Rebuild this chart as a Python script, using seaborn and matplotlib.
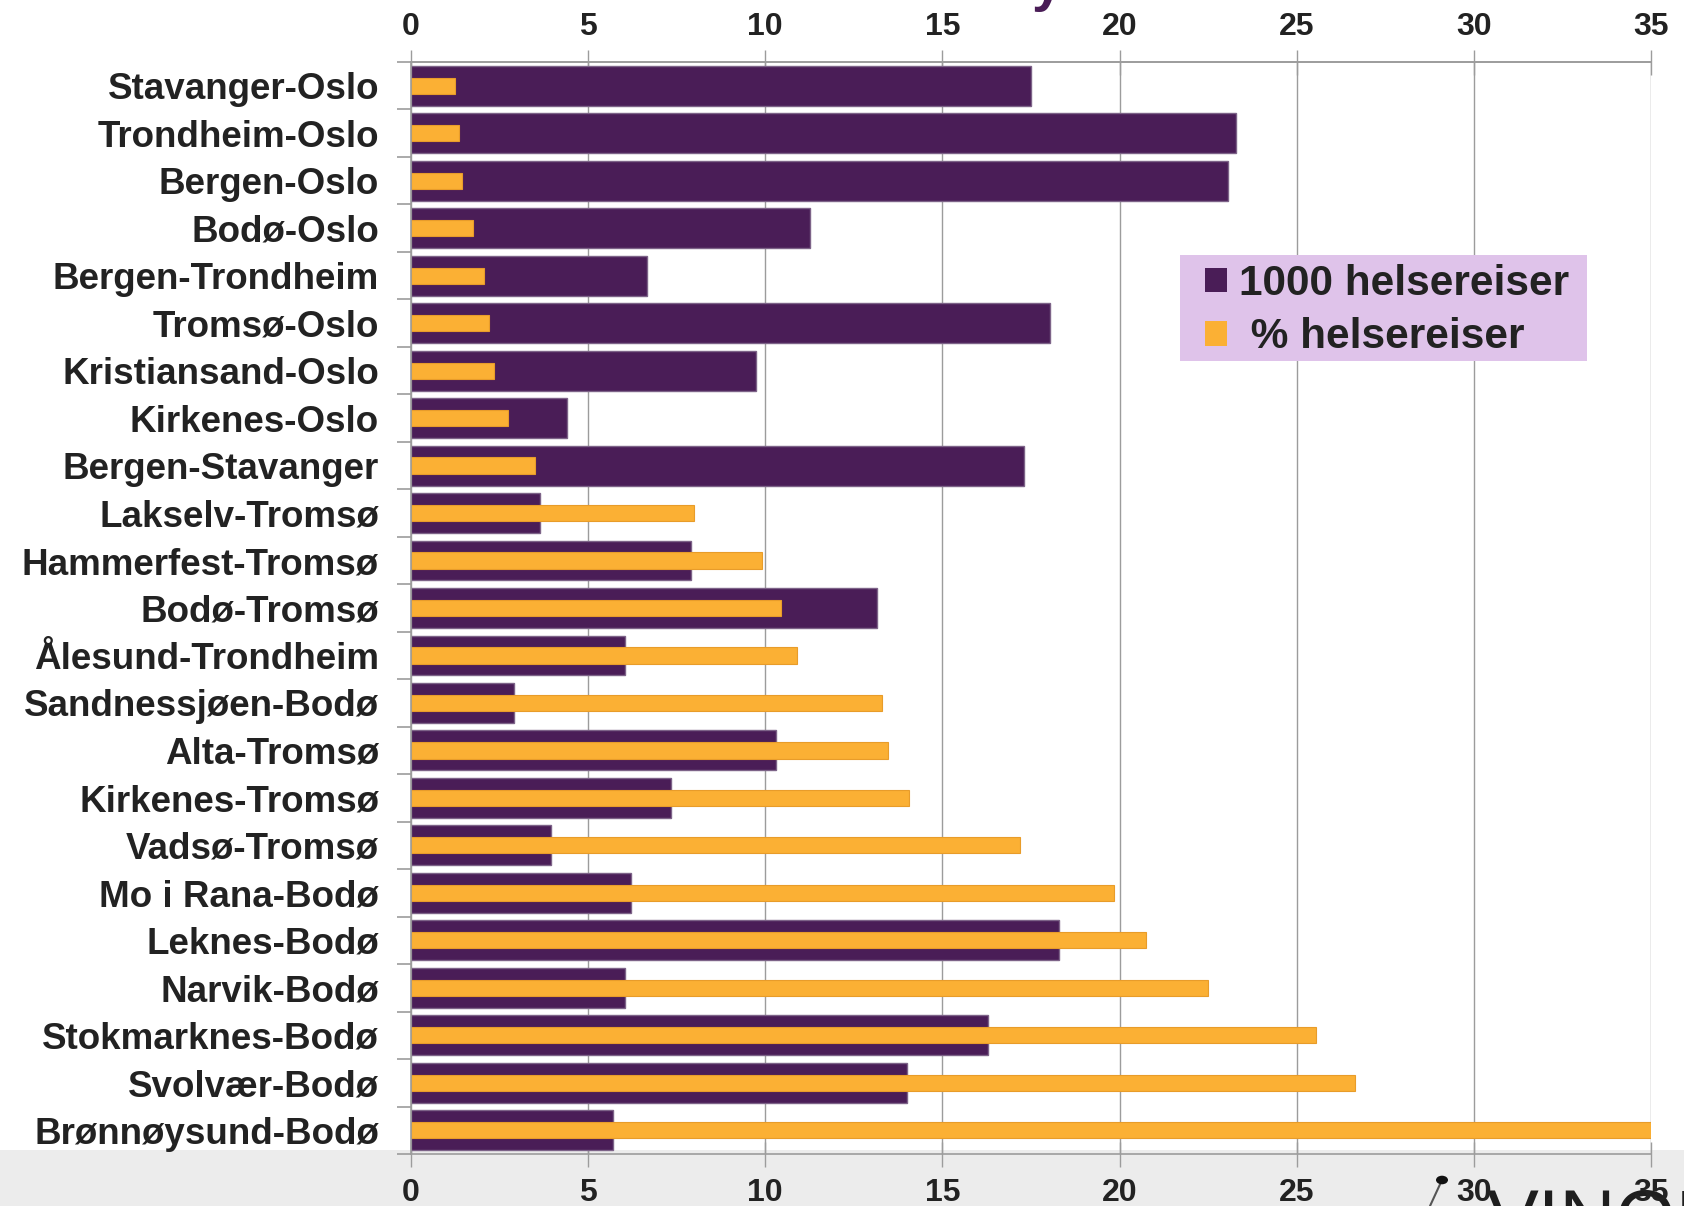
import numpy as np
import matplotlib
matplotlib.use("Agg")
import matplotlib.pyplot as plt
from matplotlib.patches import Patch, Rectangle, Circle
from matplotlib.lines import Line2D
import seaborn as sns

# routes, top to bottom
routes = [
    "Stavanger-Oslo", "Trondheim-Oslo", "Bergen-Oslo", "Bodø-Oslo",
    "Bergen-Trondheim", "Tromsø-Oslo", "Kristiansand-Oslo", "Kirkenes-Oslo",
    "Bergen-Stavanger", "Lakselv-Tromsø", "Hammerfest-Tromsø", "Bodø-Tromsø",
    "Ålesund-Trondheim", "Sandnessjøen-Bodø", "Alta-Tromsø", "Kirkenes-Tromsø",
    "Vadsø-Tromsø", "Mo i Rana-Bodø", "Leknes-Bodø", "Narvik-Bodø",
    "Stokmarknes-Bodø", "Svolvær-Bodø", "Brønnøysund-Bodø",
]
# 1000 helsereiser
trips_1000 = [17.5, 23.3, 23.05, 11.25, 6.65, 18.05, 9.75, 4.4, 17.3,
              3.65, 7.9, 13.15, 6.05, 2.9, 10.3, 7.35, 3.95, 6.2, 18.3,
              6.05, 16.3, 14.0, 5.7]
# % helsereiser
trips_pct = [1.25, 1.35, 1.45, 1.75, 2.05, 2.2, 2.35, 2.75, 3.5,
             8.0, 9.9, 10.45, 10.9, 13.3, 13.45, 14.05, 17.2, 19.85, 20.75,
             22.5, 25.55, 26.65, 35.0]
xticks = [0, 5, 10, 15, 20, 25, 30, 35]
legend_labels = ["1000 helsereiser", " % helsereiser"]

PURPLE = "#4a1d57"
ORANGE = "#fbb034"
GRID = "#9c9c9c"
TEXT = "#222222"

W, H = 1684, 1206

sns.set_theme(style="white")
plt.rcParams["font.family"] = ["Liberation Sans", "DejaVu Sans"]

fig = plt.figure(figsize=(W / 100, H / 100), dpi=100)
# grey footer band (behind everything)
fig.patches.append(Rectangle((0, 0), 1, 1 - 1150 / H, transform=fig.transFigure,
                             facecolor="#ececec", edgecolor="none", zorder=-1))

ax = fig.add_axes([411 / W, 1 - 1154 / H, (1651 - 411) / W, (1154 - 62) / H])
ax.patch.set_alpha(0)

sns.barplot(x=trips_1000, y=routes, orient="h", color=PURPLE, saturation=1,
            width=0.84, edgecolor="#7d6388", linewidth=1, ax=ax)
sns.barplot(x=trips_pct, y=routes, orient="h", color=ORANGE, saturation=1,
            width=0.34, edgecolor="#e89c2a", linewidth=0.8, ax=ax)

ax.set_xlim(0, 35)
ax.set_ylim(len(routes) - 0.5, -0.5)
ax.set_xlabel("")
ax.set_ylabel("")
ax.set_xticks(xticks)
ax.set_xticklabels([str(t) for t in xticks], fontsize=23, fontweight="bold", color=TEXT)
ax.tick_params(axis="x", bottom=True, top=False, direction="inout",
               length=18, width=1, color=GRID, pad=8.5)
ax.grid(axis="x", color=GRID, linewidth=1)
ax.grid(axis="y", visible=False)
ax.set_axisbelow(True)

# the same scale repeated on top
top = ax.secondary_xaxis("top")
top.set_xticks(xticks)
top.set_xticklabels([str(t) for t in xticks], fontsize=23, fontweight="bold", color=TEXT)
top.tick_params(axis="x", direction="inout", length=18, width=1, color=GRID, pad=5.5)
top.spines["top"].set_color(GRID)
top.spines["top"].set_linewidth(1.2)

ax.set_yticks(range(len(routes)))
ax.set_yticklabels(routes, fontsize=26.5, fontweight="bold", color=TEXT)
ax.set_yticks(np.arange(-0.5, len(routes)), minor=True)
ax.tick_params(axis="y", which="major", length=0, pad=23)
ax.tick_params(axis="y", which="minor", left=True, length=10, width=1.2, color=GRID)

for side in ["top", "bottom", "left"]:
    ax.spines[side].set_color(GRID)
    ax.spines[side].set_linewidth(1.2)
ax.spines["right"].set_visible(False)

# legend box
fig.patches.append(Rectangle((1180 / W, 1 - 361 / H), 407 / W, 106 / H,
                             transform=fig.transFigure, facecolor="#dfc3ea",
                             edgecolor="none", zorder=3))
handles = [Patch(facecolor=PURPLE, edgecolor="none"),
           Patch(facecolor=ORANGE, edgecolor="none")]
leg = fig.legend(handles, legend_labels, loc="upper left",
                 bbox_to_anchor=(1205 / W, 1 - 264 / H),
                 prop={"size": 30.5, "weight": "bold"}, frameon=False,
                 handlelength=0.53, handleheight=0.53, handletextpad=0.27,
                 labelspacing=0.31, borderpad=0, borderaxespad=0)
leg.set_zorder(4)
for t in leg.get_texts():
    t.set_color(TEXT)

# cut-off title fragment at the top
fig.text(1032 / W, 1.0, "y", color=PURPLE, fontsize=40, fontweight="bold",
         ha="left", va="baseline")
# cut-off logo at the bottom right, behind the tick labels
fig.add_artist(Line2D([1442 / W, 1430 / W], [1 - 1180 / H, 0], transform=fig.transFigure,
                      color="#555555", linewidth=1.5, zorder=-0.5))
fig.add_artist(Circle((1442 / W, 1 - 1180 / H), 6 / W, transform=fig.transFigure,
                      facecolor="#111111", edgecolor="none", zorder=-0.5))
fig.text(1487 / W, 1 - 1187 / H, "VINOR", color="#1e1e1e", fontsize=56,
         ha="left", va="top", zorder=-0.5)

fig.savefig("out.png", dpi=100)
